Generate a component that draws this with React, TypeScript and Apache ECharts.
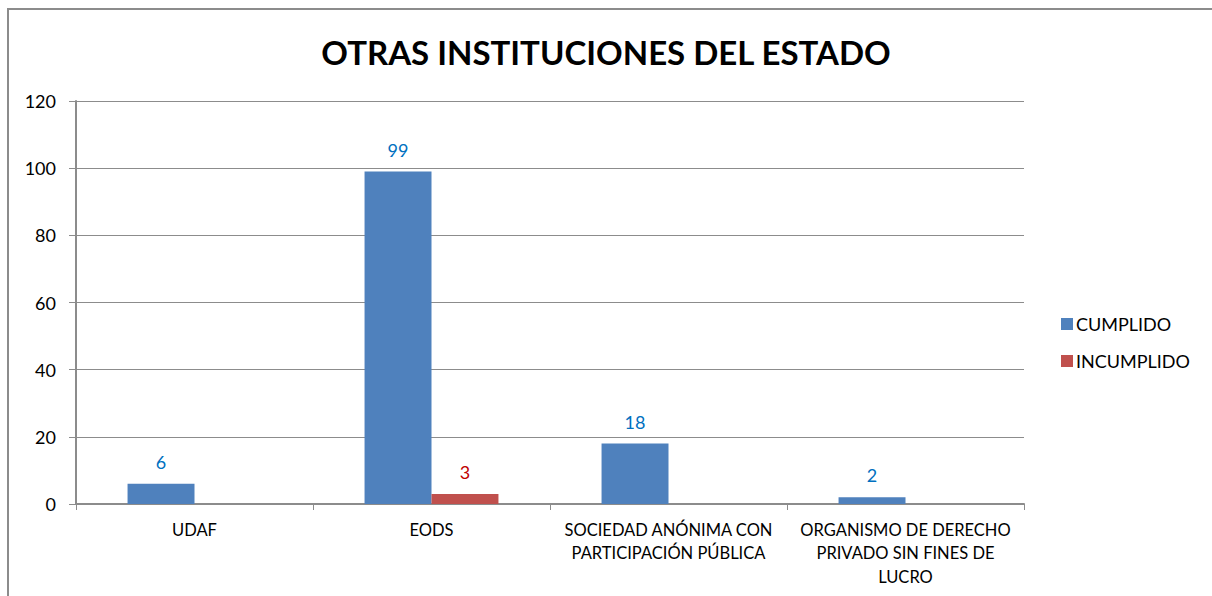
import React, { useEffect, useRef } from "react";
import * as echarts from "echarts";

const categories = [
  "UDAF",
  "EODS",
  "SOCIEDAD ANÓNIMA CON\nPARTICIPACIÓN PÚBLICA",
  "ORGANISMO DE DERECHO\nPRIVADO SIN FINES DE\nLUCRO",
];
const cumplido = [6, 99, 18, 2];
const incumplido = [null, 3, null, null];
const seriesNames = ["CUMPLIDO", "INCUMPLIDO"];
const titleText = "OTRAS INSTITUCIONES DEL ESTADO";

const FONT = "Lato, 'Open Sans', sans-serif";

export default function App() {
  const ref = useRef<HTMLDivElement>(null);
  useEffect(() => {
    if (!ref.current) return;
    const chart = echarts.init(ref.current, undefined, { renderer: "svg" });
    chart.setOption({
      animation: false,
      backgroundColor: "#ffffff",
      title: {
        text: titleText,
        left: "center",
        top: 30,
        textStyle: { fontFamily: FONT, fontSize: 33, fontWeight: "bold", color: "#000" },
      },
      graphic: [
        {
          type: "rect",
          shape: { x: 8, y: 9, width: 1230, height: 620 },
          style: { fill: "none", stroke: "#8c8c8c", lineWidth: 2 },
          silent: true,
        },
      ],
      legend: {
        orient: "vertical",
        left: 1056,
        top: 310,
        itemWidth: 12,
        itemHeight: 12,
        itemGap: 19,
        icon: "rect",
        textStyle: { fontFamily: FONT, fontSize: 18, color: "#000", padding: [0, 0, 0, -2] },
        data: seriesNames,
      },
      grid: { left: 76, right: 188, top: 101, bottom: 92 },
      xAxis: {
        type: "category",
        data: categories,
        axisLine: { lineStyle: { color: "#8c8c8c", width: 2 } },
        axisTick: { show: true, length: 6, lineStyle: { color: "#8c8c8c" } },
        axisLabel: {
          interval: 0,
          fontFamily: FONT,
          fontSize: 16.5,
          color: "#000",
          lineHeight: 23.5,
          margin: 14,
        },
      },
      yAxis: {
        type: "value",
        min: 0,
        max: 120,
        interval: 20,
        axisLine: { show: true, lineStyle: { color: "#8c8c8c", width: 2 } },
        axisTick: { show: true, length: 7, lineStyle: { color: "#8c8c8c" } },
        splitLine: { lineStyle: { color: "#8c8c8c", width: 1 } },
        axisLabel: { fontFamily: FONT, fontSize: 18, color: "#000", margin: 20 },
      },
      series: [
        {
          name: seriesNames[0],
          type: "bar",
          data: cumplido,
          barGap: "0%",
          barCategoryGap: "43.5%",
          itemStyle: { color: "#4F81BD" },
          label: {
            show: true,
            position: "top",
            distance: 13,
            fontFamily: FONT,
            fontSize: 18,
            color: "#0070C0",
          },
        },
        {
          name: seriesNames[1],
          type: "bar",
          data: incumplido,
          barGap: "0%",
          barCategoryGap: "43.5%",
          itemStyle: { color: "#C0504D" },
          label: {
            show: true,
            position: "top",
            distance: 13,
            fontFamily: FONT,
            fontSize: 18,
            color: "#C00000",
          },
        },
      ],
    });
    return () => chart.dispose();
  }, []);
  return (
    <div
      ref={ref}
      style={{ position: "fixed", left: 0, top: 0, width: 1212, height: 596 }}
    />
  );
}
